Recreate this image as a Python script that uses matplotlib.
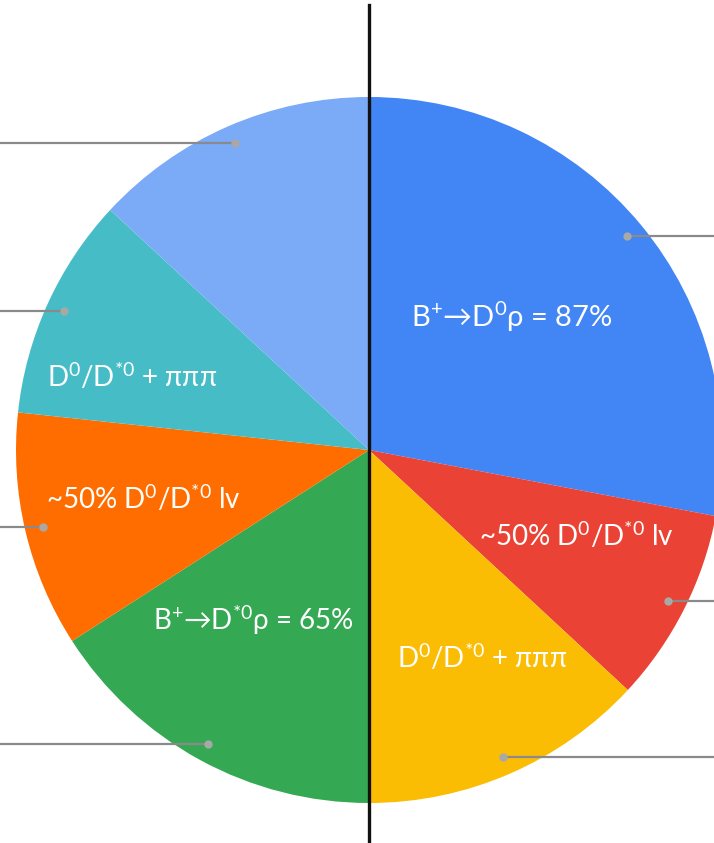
import numpy as np
import matplotlib.pyplot as plt

plt.rcParams['font.family'] = ['Lato', 'DejaVu Sans']
plt.rcParams['mathtext.fontset'] = 'custom'
plt.rcParams['mathtext.rm'] = 'Lato'
plt.rcParams['mathtext.it'] = 'Lato'

# shares of each slice, clockwise from 12 o'clock
shares = [28.0, 8.9, 13.1, 15.9, 10.8, 10.2, 13.1]
colors = ['#4285F4', '#EA4335', '#FBBC04', '#34A853', '#FF6D01', '#46BDC6', '#7BAAF7']
labels = ['B$^{+}$→D$^{0}$ρ = 87%',
          '~50% D$^{0}$/D$^{*0}$ lv',
          'D$^{0}$/D$^{*0}$ + πππ',
          'B$^{+}$→D$^{*0}$ρ = 65%',
          '~50% D$^{0}$/D$^{*0}$ lv',
          'D$^{0}$/D$^{*0}$ + πππ',
          '']
# label anchor points (pixels from top-left)
label_xy = [(512, 317), (576, 535), (482, 657), (253, 620), (143, 498), (132, 376), None]
label_size = [21, 20, 20, 20, 20, 20, 20]

W, H = 714, 843
cx, cy, r = 369, H - 450, 353

fig = plt.figure(figsize=(W / 100, H / 100), dpi=100)
ax = fig.add_axes([0, 0, 1, 1])

wedges, _ = ax.pie(shares, colors=colors, startangle=90, counterclock=False,
                   center=(cx, cy), radius=r, wedgeprops=dict(linewidth=0),
                   frame=True)
ax.set_xlim(0, W)
ax.set_ylim(0, H)
ax.axis('off')

# leader lines from each slice's midpoint out to the edge
for w in wedges:
    mid = np.deg2rad((w.theta1 + w.theta2) / 2)
    px = cx + 0.95 * r * np.cos(mid)
    py = cy + 0.95 * r * np.sin(mid)
    edge = W if px > cx else 0
    ax.plot([px, edge], [py, py], color='#8a8a8a', lw=1.6, zorder=3)
    ax.plot(px, py, 'o', color='#a8a8a8', ms=6, mec='none', zorder=4)

for text, xy, fs in zip(labels, label_xy, label_size):
    if xy is None:
        continue
    ax.text(xy[0], H - xy[1], text, color='white', fontsize=fs,
            ha='center', va='center', zorder=5)

ax.plot([cx, cx], [0, H - 5], color='#111111', lw=2.4, zorder=6)

fig.savefig('out.png', dpi=100)
